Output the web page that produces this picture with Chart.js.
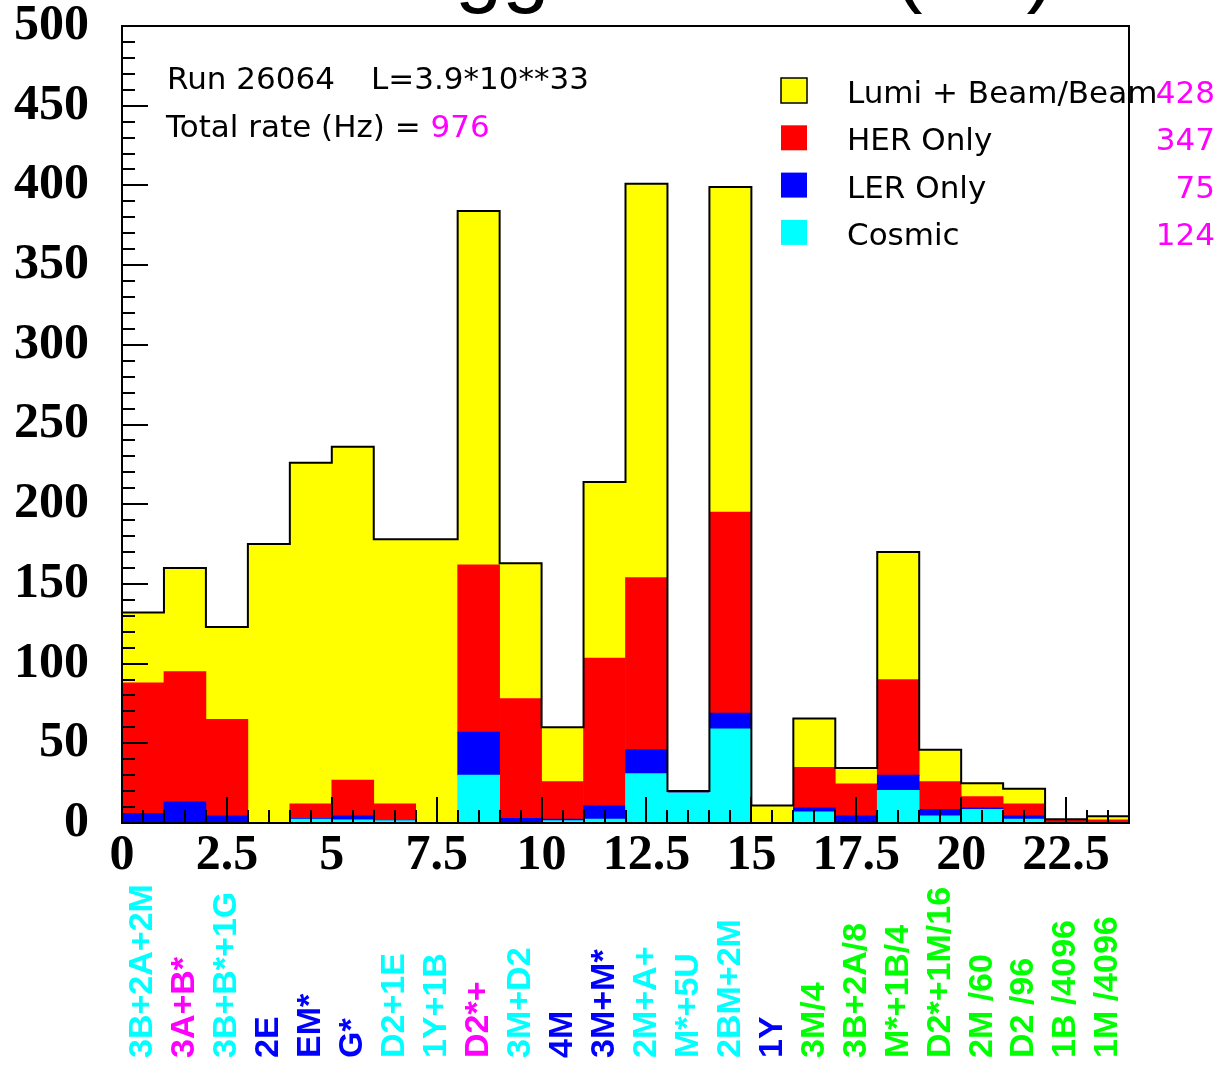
<!DOCTYPE html>
<html>
<head>
<meta charset="utf-8">
<title>Trigger Rates</title>
<script src="https://cdn.jsdelivr.net/npm/chart.js@4.4.1/dist/chart.umd.min.js"></script>
<style>
  html, body { margin: 0; padding: 0; background: #fff; }
  canvas { display: block; }
</style>
</head>
<body>
<canvas id="rateChart" width="1219" height="1065"></canvas>
<script>
// trigger bits, one per histogram bin
const binLabels = ['3B+2A+2M', '3A+B*', '3B+B*+1G', '2E', 'EM*', 'G*', 'D2+1E', '1Y+1B', 'D2*+',
  '3M+D2', '4M', '3M+M*', '2M+A+', 'M*+5U', '2BM+2M', '1Y', '3M/4', '3B+2A/8', 'M*+1B/4',
  'D2*+1M/16', '2M /60', 'D2 /96', '1B /4096', '1M /4096'];
const labelColors = ['#00ffff', '#ff00ff', '#00ffff', '#0000ff', '#0000ff', '#0000ff', '#00ffff', '#00ffff', '#ff00ff',
  '#00ffff', '#0000ff', '#0000ff', '#00ffff', '#00ffff', '#00ffff', '#0000ff', '#00ff00', '#00ff00', '#00ff00',
  '#00ff00', '#00ff00', '#00ff00', '#00ff00', '#00ff00'];

// rates per bin (Hz), stacked bottom to top
const cosmic   = [0, 0, 0, 0, 2.5, 2, 1.5, 0, 30, 0, 1.5, 2.5, 31, 19, 59, 0, 7, 0, 20.5, 4.5, 8.5, 2.5, 0, 0];
const lerOnly  = [6, 13.5, 4.5, 0, 0.5, 2.5, 0, 0, 27, 3, 1, 8.5, 15, 0, 10, 0, 2.5, 4.5, 9.5, 4, 1, 2, 0, 0];
const herOnly  = [82, 81.5, 60.5, 0, 9, 22.5, 10.5, 0, 105, 75, 23.5, 92.5, 108, 1, 126, 0, 25.5, 20, 60, 17.5, 7, 7.5, 2.3, 2];
const lumiBeam = [44, 65, 58, 175, 214, 209, 166, 178, 222, 85, 34, 110.5, 247, 0, 204, 11, 30.5, 10, 80, 20, 8.5, 9.5, 0, 2.2];

const xTicks = [0, 2.5, 5, 7.5, 10, 12.5, 15, 17.5, 20, 22.5];
const yTicks = [0, 50, 100, 150, 200, 250, 300, 350, 400, 450, 500];

const legendNames = ['Lumi + Beam/Beam', 'HER Only', 'LER Only', 'Cosmic'];
const legendRates = [428, 347, 75, 124];
const legendColors = ['#ffff00', '#ff0000', '#0000ff', '#00ffff'];
const titleText = 'Trigger Rates (Hz)';
const runText = 'Run 26064';
const lumiText = 'L=3.9*10**33';
const totalRate = 976;

const ctx = document.getElementById('rateChart').getContext('2d');

const toPoints = arr => arr.map((v, i) => ({ x: i + 0.5, y: v }));
const totals = cosmic.map((v, i) => v + lerOnly[i] + herOnly[i] + lumiBeam[i]);
const outline = totals.map((v, i) => ({ x: i, y: v }));
outline.push({ x: totals.length, y: totals[totals.length - 1] });

const whiteBg = {
  id: 'whiteBg',
  beforeDraw(chart) {
    const c = chart.ctx;
    c.save();
    c.fillStyle = '#fff';
    c.fillRect(0, 0, chart.width, chart.height);
    c.restore();
  }
};

// ROOT style frame with ticks pointing inwards
const frameTicks = {
  id: 'frameTicks',
  afterDatasetsDraw(chart) {
    const { ctx: c, chartArea: a, scales: { x, y } } = chart;
    c.save();
    c.strokeStyle = '#000';
    c.lineWidth = 2;
    c.beginPath();
    for (let v = 0; v <= 500; v += 10) {
      const py = Math.round(y.getPixelForValue(v));
      c.moveTo(a.left, py);
      c.lineTo(a.left + (v % 50 === 0 ? 26 : 13), py);
    }
    for (let v = 0; v <= 24; v += 0.5) {
      const px = Math.round(x.getPixelForValue(v));
      c.moveTo(px, a.bottom);
      c.lineTo(px, a.bottom - (v % 2.5 === 0 ? 26 : 13));
    }
    c.stroke();
    c.strokeRect(a.left, a.top, a.right - a.left, a.bottom - a.top);
    c.restore();
  }
};

const texts = {
  id: 'texts',
  afterDraw(chart) {
    const { ctx: c, scales: { x } } = chart;
    c.save();
    c.textAlign = 'left';
    c.textBaseline = 'alphabetic';
    c.fillStyle = '#000';

    // title, mostly cut off at the top of the canvas
    c.font = '85px "Liberation Sans"';
    c.fillText(titleText, 359, -4);

    c.font = '31px "DejaVu Sans"';
    c.fillText(runText, 167, 89);
    c.fillText(lumiText, 371, 89);
    const totalLabel = 'Total rate (Hz) = ';
    c.fillText(totalLabel, 166, 137);
    c.fillStyle = '#ff00ff';
    c.fillText(String(totalRate), 166 + c.measureText(totalLabel).width, 137);

    // legend
    legendNames.forEach((name, i) => {
      const base = 103 + i * 47.3;
      c.fillStyle = legendColors[i];
      c.fillRect(781, base - 25, 26, 25);
      if (i === 0) {
        c.strokeStyle = '#000';
        c.lineWidth = 1.5;
        c.strokeRect(781, base - 25, 26, 25);
      }
      c.fillStyle = '#000';
      c.textAlign = 'left';
      c.fillText(name, 847, base);
      c.fillStyle = '#ff00ff';
      c.textAlign = 'right';
      c.fillText(String(legendRates[i]), 1215, base);
    });

    // rotated trigger names under each bin
    c.font = 'bold 34px "Liberation Sans"';
    c.textAlign = 'left';
    c.textBaseline = 'middle';
    binLabels.forEach((t, i) => {
      c.save();
      c.translate(x.getPixelForValue(i + 0.5), 1058);
      c.rotate(-Math.PI / 2);
      c.fillStyle = labelColors[i];
      c.fillText(t, 0, 0);
      c.restore();
    });
    c.restore();
  }
};

const barSet = (label, data, color) => ({
  type: 'bar',
  label: label,
  data: toPoints(data),
  backgroundColor: color,
  borderWidth: 0,
  barPercentage: 1,
  categoryPercentage: 1,
  stack: 'rates',
  order: 1
});

const tickFont = { family: 'Liberation Serif', size: 50, weight: 'bold' };

new Chart(ctx, {
  type: 'bar',
  data: {
    datasets: [
      {
        type: 'line',
        label: 'total',
        data: outline,
        borderColor: '#000',
        borderWidth: 2,
        pointRadius: 0,
        fill: false,
        stepped: 'before',
        stack: 'outline',
        order: 0
      },
      barSet('Cosmic', cosmic, '#00ffff'),
      barSet('LER Only', lerOnly, '#0000ff'),
      barSet('HER Only', herOnly, '#ff0000'),
      barSet('Lumi + Beam/Beam', lumiBeam, '#ffff00')
    ]
  },
  options: {
    responsive: false,
    animation: false,
    events: [],
    layout: { padding: { top: 26, right: 90, left: 0, bottom: 0 } },
    plugins: {
      legend: { display: false },
      tooltip: { enabled: false }
    },
    scales: {
      x: {
        type: 'linear',
        min: 0,
        max: 24,
        offset: false,
        stacked: true,
        grid: { display: false, drawTicks: false, offset: false },
        border: { display: false },
        afterBuildTicks: s => { s.ticks = xTicks.map(v => ({ value: v })); },
        afterFit: s => { s.height = 242; s.paddingLeft = 0; s.paddingRight = 0; },
        ticks: {
          font: tickFont,
          color: '#000',
          padding: 3,
          maxRotation: 0,
          autoSkip: false,
          callback: v => String(v)
        }
      },
      y: {
        min: 0,
        max: 500,
        stacked: true,
        grid: { display: false, drawTicks: false },
        border: { display: false },
        afterBuildTicks: s => { s.ticks = yTicks.map(v => ({ value: v })); },
        afterFit: s => { s.width = 122; s.paddingTop = 0; s.paddingBottom = 0; },
        ticks: {
          font: tickFont,
          color: '#000',
          padding: 33,
          callback: v => String(v)
        }
      }
    }
  },
  plugins: [whiteBg, frameTicks, texts]
});
</script>
</body>
</html>
